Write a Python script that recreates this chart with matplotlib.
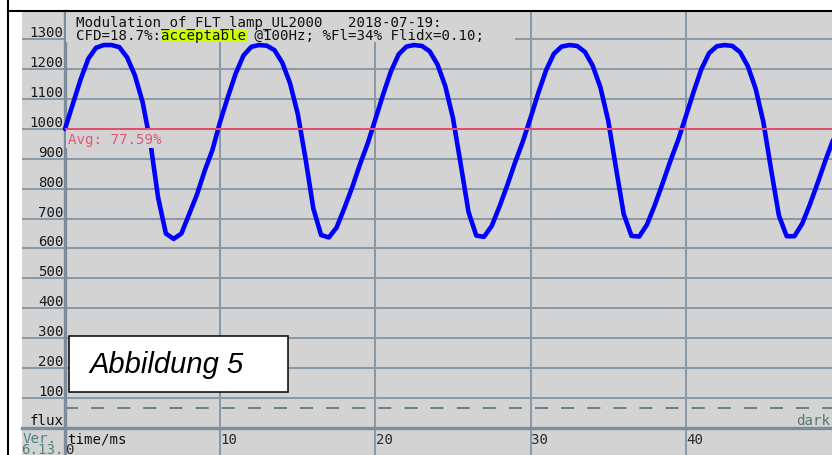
import numpy as np
import matplotlib
matplotlib.use("Agg")
import matplotlib.pyplot as plt
from matplotlib.patches import Rectangle
from matplotlib.lines import Line2D

# ---------------- data ----------------
time_ms = np.arange(0, 50, 0.5)
flux = [
    1000, 1083, 1165, 1235, 1272, 1281, 1281, 1274, 1240, 1180,
    1090, 955, 770, 650, 632, 650, 715, 780, 860, 930,
    1025, 1108, 1186, 1246, 1275, 1281, 1279, 1264, 1222, 1153,
    1050, 900, 734, 645, 637, 670, 735, 804, 881, 951,
    1033, 1116, 1193, 1250, 1276, 1281, 1278, 1260, 1216, 1144,
    1036, 881, 722, 643, 639, 676, 741, 812, 888, 958,
    1038, 1121, 1197, 1252, 1276, 1281, 1278, 1258, 1212, 1139,
    1028, 870, 715, 642, 640, 680, 745, 817, 892, 962,
    1042, 1124, 1200, 1254, 1277, 1281, 1278, 1257, 1210, 1135,
    1023, 863, 710, 641, 641, 683, 748, 820, 895, 965,
]
y_ticks = [100, 200, 300, 400, 500, 600, 700, 800, 900, 1000, 1100, 1200, 1300]
x_ticks = [10, 20, 30, 40]
avg_level = 1000
dark_level = 65
avg_label = "Avg: 77.59%"
title1 = "Modulation_of_FLT_lamp_UL2000   2018-07-19:"
title2 = "CFD=18.7%:acceptable @100Hz; %Fl=34% Flidx=0.10;"
x_min, x_max = -2.771, 49.42
y_min, y_max = -91.4, 1395.0

# ---------------- style ----------------
W, H = 832, 456
grey = '#d3d3d3'
gridc = '#8b99a5'
axisc = '#7d8c9a'
teal = '#4a8383'
mono = 'DejaVu Sans Mono'
fs = 10.2
char_w = fs * 100 / 72 * 0.602   # advance of one monospace cell in pixels

plt.rcParams['lines.scale_dashes'] = False


def fx(x):
    return x / W


def fy(y):
    return 1 - y / H


fig = plt.figure(figsize=(W / 100, H / 100), dpi=100)
fig.patch.set_facecolor('white')

ax = fig.add_axes([22 / W, 0, 810 / W, 444 / H])
ax.set_facecolor(grey)
ax.set_xlim(x_min, x_max)
ax.set_ylim(y_min, y_max)
ax.set_xticks(x_ticks)
ax.set_yticks(y_ticks)
ax.tick_params(length=0, labelleft=False, labelbottom=False)
ax.grid(True, color=gridc, lw=1.45)
ax.set_axisbelow(True)

for s in ['top', 'right']:
    ax.spines[s].set_visible(False)
ax.spines['left'].set_position(('data', 0))
ax.spines['bottom'].set_position(('data', 0))
for s in ['left', 'bottom']:
    ax.spines[s].set_color(axisc)
    ax.spines[s].set_linewidth(2.4)

# dark reference (dashed) and average line
ax.hlines(dark_level, 0, x_max, color='#4d6b6b', lw=1.1, linestyles=(0, (9.4, 9.4)), zorder=2)
ax.hlines(avg_level, 0, x_max, color='#e0506e', lw=1.45, zorder=5)

# the flux curve
ax.plot(time_ms, flux, color='#0000ff', lw=3.3, zorder=3, solid_capstyle='round')

ax.annotate(avg_label, xy=(0, avg_level), xytext=(2.5, -14), textcoords='offset pixels',
            ha='left', va='baseline', color='#dc5a78', family=mono, fontsize=fs,
            bbox=dict(boxstyle='square,pad=0.12', fc=grey, ec='none'), zorder=4)

# axis labels
for v in y_ticks:
    ax.annotate(str(v), xy=(0, v), xytext=(-1.5, 3), textcoords='offset pixels',
                ha='right', va='baseline', color='#1a1a1a', family=mono, fontsize=fs,
                annotation_clip=False)
for t in x_ticks:
    ax.annotate(str(t), xy=(t, 0), xytext=(0.5, -15.3), textcoords='offset pixels',
                ha='left', va='baseline', color='#2a2a2a', family=mono, fontsize=fs,
                annotation_clip=False)
ax.annotate('0', xy=(0, 0), xytext=(0.5, -25.3), textcoords='offset pixels',
            ha='left', va='baseline', color='#2a2a2a', family=mono, fontsize=fs,
            annotation_clip=False)
ax.annotate('time/ms', xy=(0, 0), xytext=(2.5, -14.6), textcoords='offset pixels',
            ha='left', va='baseline', color='#111111', family=mono, fontsize=fs)
ax.annotate('flux', xy=(0, 0), xytext=(-1.5, 4), textcoords='offset pixels',
            ha='right', va='baseline', color='#111111', family=mono, fontsize=fs)
ax.annotate('dark', xy=(x_max, 0), xytext=(-2, 4), textcoords='offset pixels',
            ha='right', va='baseline', color='#557777', family=mono, fontsize=fs)

fig.text(fx(22.5), fy(443), 'Ver.', color=teal, family=mono, fontsize=fs, va='baseline')
fig.text(fx(21.5), fy(454), '6.13.', color=teal, family=mono, fontsize=fs, va='baseline')

# title block with its grey backing and the highlighted verdict
t1x, t2x = 76, 76
fig.add_artist(Rectangle((fx(66), fy(43)), 449 / W, 30.5 / H, transform=fig.transFigure,
                         fc=grey, ec='none', zorder=1))
hl_start = t2x + title2.index('acceptable') * char_w
fig.add_artist(Rectangle((fx(hl_start - 0.5), fy(42.7)), (10 * char_w + 1) / W, 12 / H,
                         transform=fig.transFigure, fc='#ccff00', ec='none', zorder=2))
fig.text(fx(t1x), fy(26.8), title1, family=mono, fontsize=fs, va='baseline', color='#111111')
fig.text(fx(t2x), fy(40.4), title2, family=mono, fontsize=fs, va='baseline', color='#111111')

# "Abbildung 5" caption box
fig.add_artist(Rectangle((fx(69), fy(392.7)), 219 / W, 56 / H, transform=fig.transFigure,
                         fc='white', ec='black', lw=1.1, zorder=1))
fig.text(fx(89), fy(372.7), 'Abbildung 5', family='Liberation Sans', style='italic',
         fontsize=21, va='baseline', color='black', zorder=3)

# black frame lines
fig.add_artist(Line2D([fx(8), fx(8)], [0, 1], transform=fig.transFigure, color='black', lw=1.5))
fig.add_artist(Line2D([fx(8), 1], [fy(11.5), fy(11.5)], transform=fig.transFigure,
                      color='black', lw=1.5))

fig.savefig('out.png', dpi=100)
